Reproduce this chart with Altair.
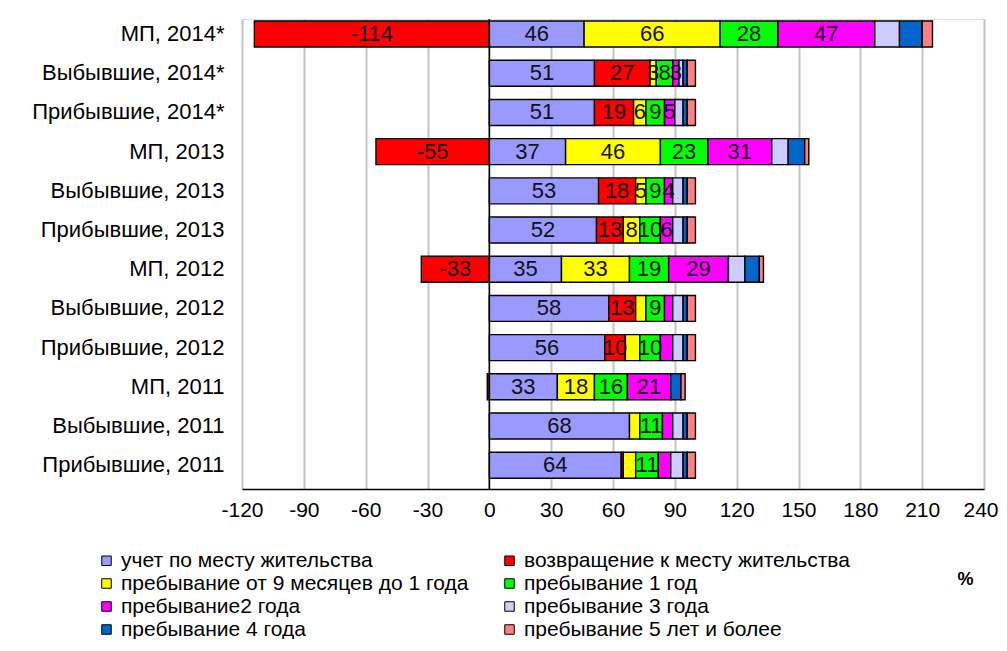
import altair as alt
import pandas as pd

rows = ["МП, 2014*", "Выбывшие, 2014*", "Прибывшие, 2014*",
        "МП, 2013", "Выбывшие, 2013", "Прибывшие, 2013",
        "МП, 2012", "Выбывшие, 2012", "Прибывшие, 2012",
        "МП, 2011", "Выбывшие, 2011", "Прибывшие, 2011"]

series = ["учет по месту жительства",
          "возвращение к месту жительства",
          "пребывание от 9 месяцев до 1 года",
          "пребывание 1 год",
          " пребывание2 года",
          " пребывание 3 года",
          "пребывание 4 года",
          "пребывание 5 лет и более"]

colors = ["#9999FF", "#FF0000", "#FFFF00", "#00FF00",
          "#FF00FF", "#CCCCFF", "#0066CC", "#FF8080"]

uchet = [46, 51, 51, 37, 53, 52, 35, 58, 56, 33, 68, 64]
vozvr = [-114, 27, 19, -55, 18, 13, -33, 13, 10, -1, 0, 1]
p9m = [66, 3, 6, 46, 5, 8, 33, 5, 7, 18, 5, 6]
p1 = [28, 8, 9, 23, 9, 10, 19, 9, 10, 16, 11, 11]
p2 = [47, 3, 5, 31, 4, 6, 29, 4, 6, 21, 5, 6]
p3 = [12, 2, 4, 8, 5, 5, 8, 5, 5, 0, 5, 6]
p4 = [11, 2, 2, 8, 2, 2, 7, 2, 2, 5, 2, 2]
p5 = [5, 4, 4, 2, 4, 4, 2, 4, 4, 2, 4, 4]

values = [uchet, vozvr, p9m, p1, p2, p3, p4, p5]

labelled_series = 5
hidden_labels = {("Выбывшие, 2012", 2), ("Выбывшие, 2012", 4),
                 ("Прибывшие, 2012", 2), ("Прибывшие, 2012", 4),
                 ("МП, 2011", 1),
                 ("Выбывшие, 2011", 2), ("Выбывшие, 2011", 4),
                 ("Прибывшие, 2011", 1), ("Прибывшие, 2011", 2), ("Прибывшие, 2011", 4)}

x_ticks = [-120, -90, -60, -30, 0, 30, 60, 90, 120, 150, 180, 210, 240]

records = []
for si, (name, vals) in enumerate(zip(series, values)):
    for row, v in zip(rows, vals):
        if v == 0:
            continue
        show = si < labelled_series and (row, si) not in hidden_labels
        records.append({"row": row, "series": name, "order": si,
                        "value": v, "label": str(v) if show else ""})
df = pd.DataFrame(records)

# legend fills column by column: list entries so that it reads row by row as in the original
legend_idx = [0, 2, 4, 6, 1, 3, 5, 7]
legend_domain = [series[i] for i in legend_idx]
legend_range = [colors[i] for i in legend_idx]

FONT = "Liberation Sans"

xscale = alt.Scale(domain=[-120, 240], nice=False, zero=False)
yscale = alt.Scale(paddingInner=0.337, paddingOuter=0.164, align=0.16, round=False)

base = alt.Chart(df).transform_stack(
    stack="value", groupby=["row"],
    sort=[alt.SortField("order", order="ascending")],
    as_=["x0", "x1"],
).transform_calculate(mid="(datum.x0 + datum.x1) / 2")

bars = base.mark_bar(stroke="black", strokeWidth=1.4).encode(
    y=alt.Y("row:N", sort=rows, scale=yscale,
            axis=alt.Axis(title=None, domain=False, ticks=False, grid=False,
                          labelFont=FONT, labelFontSize=22, labelColor="black",
                          labelPadding=18, labelLimit=400)),
    x=alt.X("x0:Q", scale=xscale,
            axis=alt.Axis(values=x_ticks, title="%", grid=True,
                          gridColor="#c4c4c4", gridWidth=2,
                          domainColor="black", domainWidth=1.5, ticks=False,
                          labelExpr="'' + datum.value",
                          labelAlign={"condition": {"test": "datum.value == 240", "value": "right"},
                                      "value": "center"},
                          labelOffset={"condition": {"test": "datum.value == 240", "value": 14},
                                       "value": 0},
                          labelFont=FONT, labelFontSize=21, labelColor="black",
                          labelPadding=10, labelFlush=False, labelOverlap=False,
                          titleFont=FONT, titleFontSize=18, titleFontWeight="bold",
                          titleColor="black", titleX=723, titleY=90,
                          titleAlign="center", titleBaseline="middle")),
    x2="x1:Q",
    color=alt.Color("series:N", scale=alt.Scale(domain=legend_domain, range=legend_range),
                    legend=alt.Legend(title=None, orient="none", legendX=-146, legendY=531,
                                      columns=2, symbolType="square", symbolSize=90,
                                      symbolStrokeColor="black", symbolStrokeWidth=1,
                                      labelFont=FONT, labelFontSize=21, labelColor="black",
                                      labelOffset=4, labelLimit=500,
                                      rowPadding=1, columnPadding=30)),
    order=alt.Order("order:Q"),
)

text = base.mark_text(font=FONT, fontSize=22, color="#111111", baseline="middle").encode(
    y=alt.Y("row:N", sort=rows, scale=yscale),
    x=alt.X("mid:Q", scale=xscale),
    text="label:N",
)

zero = alt.Chart(pd.DataFrame({"x": [0]})).mark_rule(color="black", strokeWidth=1.5).encode(
    x=alt.X("x:Q", scale=xscale)
)

chart = alt.layer(bars, zero, text).properties(
    width=742, height=470,
    autosize=alt.AutoSizeParams(type="none"),
    padding={"left": 234, "top": 11, "right": 15, "bottom": 150},
).configure_view(stroke="#a8a8a8", strokeWidth=1.5).configure(background="white")

chart.save("out.html", embed_options={"renderer": "svg", "actions": False})
